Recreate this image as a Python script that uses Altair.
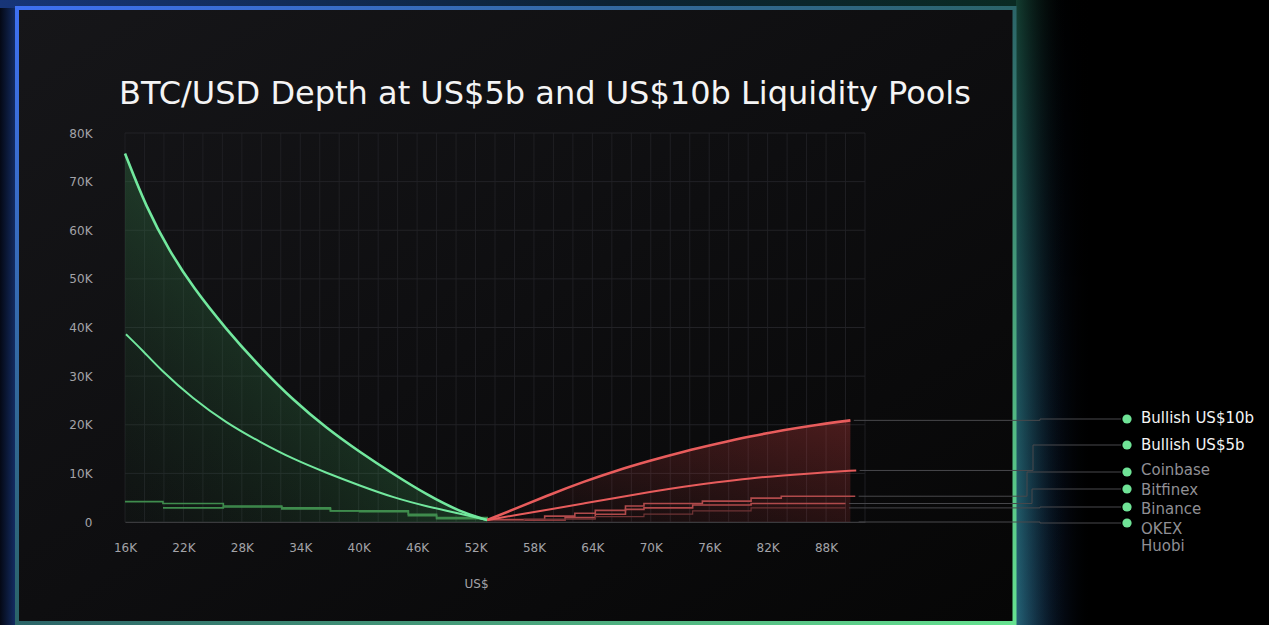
import altair as alt
import pandas as pd

# ---------------- data (prices and depth in thousands of US$) ----------------
# Bid side (below the 53K mid price), Bullish liquidity pools
BID_PRICE_10B = [16.0, 18.2, 20.6, 23.0, 26.4, 29.9, 33.3, 36.7, 40.1, 43.6, 47.0, 50.4, 53.2]
BID_DEPTH_10B = [75.8, 64.6, 55.6, 48.2, 39.6, 31.8, 25.0, 19.3, 14.4, 9.8, 5.6, 2.1, 0.4]
BID_PRICE_5B = [16.1, 17.9, 19.6, 23.0, 26.4, 29.9, 33.3, 36.7, 40.1, 43.6, 47.0, 50.4, 53.2]
BID_DEPTH_5B = [38.6, 35.1, 31.4, 25.3, 20.4, 16.4, 12.9, 10.1, 7.5, 5.0, 3.2, 1.7, 0.4]

# Ask side (above the mid price)
ASK_PRICE_10B = [53.2, 56.3, 59.7, 63.1, 66.5, 69.9, 73.4, 76.8, 80.2, 83.6, 87.0, 90.5]
ASK_DEPTH_10B = [0.4, 2.9, 5.7, 8.3, 10.6, 12.6, 14.5, 16.1, 17.6, 18.9, 20.0, 20.9]
ASK_PRICE_5B = [53.2, 56.3, 59.7, 63.1, 66.5, 69.9, 73.4, 76.8, 80.2, 83.6, 87.0, 91.1]
ASK_DEPTH_5B = [0.4, 1.5, 2.6, 3.8, 5.0, 6.2, 7.3, 8.2, 9.0, 9.6, 10.1, 10.6]

# Exchange order books (step lines)
COINBASE_BID_PRICE = [16.0, 19.9, 26.1, 32.1, 37.1, 45.1, 48.0, 53.2]
COINBASE_BID_DEPTH = [4.2, 3.8, 3.3, 2.9, 2.3, 1.6, 0.9, 0.4]
BITFINEX_BID_PRICE = [19.9, 26.1, 32.1, 37.1, 40.1, 45.1, 48.0, 53.2]
BITFINEX_BID_DEPTH = [2.9, 3.1, 2.7, 2.25, 2.1, 1.3, 0.7, 0.4]

COINBASE_ASK_PRICE = [53.2, 59.1, 62.2, 64.3, 67.4, 69.3, 75.3, 80.3, 83.4, 91.0]
COINBASE_ASK_DEPTH = [0.5, 1.2, 1.8, 2.4, 3.3, 3.8, 4.3, 4.9, 5.3, 5.3]
BITFINEX_ASK_PRICE = [53.2, 61.2, 64.3, 67.4, 69.3, 74.3, 80.3, 90.0]
BITFINEX_ASK_DEPTH = [0.4, 0.9, 1.6, 2.6, 2.9, 3.5, 3.8, 3.8]
BINANCE_ASK_PRICE = [53.2, 57.0, 64.3, 69.3, 74.3, 80.3, 90.0]
BINANCE_ASK_DEPTH = [0.3, 0.6, 1.1, 1.6, 2.3, 2.9, 2.9]
OKEX_END = (91.0, 0.0)

X_TICKS = [16, 22, 28, 34, 40, 46, 52, 58, 64, 70, 76, 82, 88]
Y_TICKS = [0, 10, 20, 30, 40, 50, 60, 70, 80]

LEGEND_NAMES = ["Bullish US$10b", "Bullish US$5b", "Coinbase", "Bitfinex", "Binance", "OKEX", "Huobi"]

TITLE = "BTC/USD Depth at US$5b and US$10b Liquidity Pools"

# ---------------- layout ----------------
W, H = 1269, 625
PLOT_LEFT, PLOT_TOP = 125, 133
PLOT_W, PLOT_H = 740, 389
X_DOM = (16, 92)
Y_DOM = (0, 80)


def x_at(px):
    """Page x pixel -> price value on the x scale."""
    return X_DOM[0] + (px - PLOT_LEFT) * (X_DOM[1] - X_DOM[0]) / PLOT_W


def y_at(py):
    """Page y pixel -> depth value on the y scale."""
    return Y_DOM[0] + (PLOT_TOP + PLOT_H - py) * (Y_DOM[1] - Y_DOM[0]) / PLOT_H


def px(v):
    return alt.value(v - PLOT_LEFT)


def py(v):
    return alt.value(v - PLOT_TOP)


DOT_X, LABEL_X, LINE_STOP_X = 1127, 1141, 1121
# name: (dot row y, label y, jog x or None, emphasised)
LEGEND_LAYOUT = {
    "Bullish US$10b": (419, 418, None, True),
    "Bullish US$5b": (445, 445, 1033, True),
    "Coinbase": (472, 470, 1027, False),
    "Bitfinex": (489, 490, 1032, False),
    "Binance": (507, 509, None, False),
    "OKEX": (523, 529, None, False),
    "Huobi": (None, 546, None, False),
}

GREEN = "#72e89e"
RED = "#e85c5c"
GREEN_STEP = "#3f8c4d"
RED_STEP = "#b04a4b"
FONT = "DejaVu Sans"
CURVE = "basis"

# ---------------- tables ----------------
def frame(xs, ys, **extra):
    d = pd.DataFrame({"price": xs, "depth": ys})
    for k, v in extra.items():
        d[k] = v
    return d


bid10 = frame(BID_PRICE_10B, BID_DEPTH_10B)
bid5 = frame(BID_PRICE_5B, BID_DEPTH_5B)
ask10 = frame(ASK_PRICE_10B, ASK_DEPTH_10B)
ask5 = frame(ASK_PRICE_5B, ASK_DEPTH_5B)

green_steps = pd.concat([
    frame(COINBASE_BID_PRICE, COINBASE_BID_DEPTH, book="Coinbase bid"),
    frame(BITFINEX_BID_PRICE, BITFINEX_BID_DEPTH, book="Bitfinex bid"),
])
red_steps = pd.concat([
    frame(COINBASE_ASK_PRICE, COINBASE_ASK_DEPTH, book="Coinbase ask"),
    frame(BITFINEX_ASK_PRICE, BITFINEX_ASK_DEPTH, book="Bitfinex ask"),
])
binance_steps = frame(BINANCE_ASK_PRICE, BINANCE_ASK_DEPTH, book="Binance ask")

line_ends = {
    "Bullish US$10b": (ASK_PRICE_10B[-1], ASK_DEPTH_10B[-1]),
    "Bullish US$5b": (ASK_PRICE_5B[-1], ASK_DEPTH_5B[-1]),
    "Coinbase": (COINBASE_ASK_PRICE[-1], COINBASE_ASK_DEPTH[-1]),
    "Bitfinex": (BITFINEX_ASK_PRICE[-1], BITFINEX_ASK_DEPTH[-1]),
    "Binance": (BINANCE_ASK_PRICE[-1], BINANCE_ASK_DEPTH[-1]),
    "OKEX": OKEX_END,
}

conn_rows = []
for name, (ex, ey) in line_ends.items():
    row_y, _, jog, _ = LEGEND_LAYOUT[name]
    ry = y_at(row_y)
    jx = x_at(jog if jog else 1040)
    pts = [(ex + 0.35, ey), (jx, ey), (jx, ry), (x_at(LINE_STOP_X), ry)]
    for i, (a, b) in enumerate(pts):
        conn_rows.append({"name": name, "seq": i, "price": a, "depth": b})
connectors = pd.DataFrame(conn_rows)

legend_rows = []
for name in LEGEND_NAMES:
    row_y, lab_y, _, strong = LEGEND_LAYOUT[name]
    legend_rows.append({
        "name": name,
        "dot_x": x_at(DOT_X),
        "dot_y": y_at(row_y) if row_y else None,
        "lab_x": x_at(LABEL_X),
        "lab_y": y_at(lab_y),
        "strong": strong,
    })
legend = pd.DataFrame(legend_rows)

grid_x = pd.DataFrame({"price": list(range(16, 93, 2))})
grid_y = pd.DataFrame({"depth": Y_TICKS})

# ---------------- scales ----------------
xs = alt.Scale(domain=list(X_DOM), nice=False, zero=False)
ys = alt.Scale(domain=list(Y_DOM), nice=False, zero=False)

X = alt.X(
    "price:Q", scale=xs,
    axis=alt.Axis(
        values=X_TICKS, grid=False, ticks=False, domain=True, domainColor="#3a3a3d",
        labelExpr="datum.value + 'K'", labelPadding=20, labelFontSize=12,
        labelColor="#a3a3a8", labelFont=FONT, labelFlush=False, zindex=1,
        title="US$", titleX=476 - PLOT_LEFT, titleY=583 - (PLOT_TOP + PLOT_H),
        titleAlign="center", titleBaseline="middle", titleFont=FONT,
        titleFontSize=12, titleFontWeight="normal", titleColor="#a3a3a8",
    ),
)
Y = alt.Y(
    "depth:Q", scale=ys,
    axis=alt.Axis(
        values=Y_TICKS, grid=False, ticks=False, domain=False,
        labelExpr="datum.value == 0 ? '0' : datum.value + 'K'", labelPadding=33,
        labelFontSize=12, labelColor="#a3a3a8", labelFont=FONT, labelFlush=False,
        zindex=1, title=None,
    ),
)

def grad(stops, x1=0, y1=0, x2=1, y2=0):
    return alt.Gradient(
        gradient="linear",
        stops=[alt.GradientStop(color=c, offset=o) for o, c in stops],
        x1=x1, y1=y1, x2=x2, y2=y2,
    )

one = pd.DataFrame({"k": [0]})

# ---------------- background: glow + panel ----------------
glow_left = alt.Chart(one).mark_rect(
    fill=grad([(0, "#040814"), (1, "#15306c")])
).encode(x=px(0), x2=px(17), y=py(0), y2=py(H))
glow_top = alt.Chart(one).mark_rect(
    fill=grad([(0, "#173578"), (0.6, "#0c2233"), (1, "#0a2a22")])
).encode(x=px(0), x2=px(1017), y=py(0), y2=py(8))
glow_right = alt.Chart(one).mark_rect(
    fill=grad([(0, "rgba(40,90,165,0.85)"), (0.45, "rgba(20,50,100,0.4)"), (1, "rgba(0,0,0,0)")])
).encode(x=px(1016), x2=px(1092), y=py(0), y2=py(H))
glow_right_shade = alt.Chart(one).mark_rect(
    fill=grad([(0, "rgba(0,0,0,0.92)"), (0.6, "rgba(0,0,0,0.35)"), (1, "rgba(0,0,0,0)")], 0, 0, 0, 1)
).encode(x=px(1016), x2=px(1092), y=py(0), y2=py(H))
glow_right_teal = alt.Chart(one).mark_rect(
    fill=grad([(0, "rgba(40,130,95,0.45)"), (1, "rgba(0,0,0,0)")])
).encode(x=px(1016), x2=px(1068), y=py(0), y2=py(H))

panel = alt.Chart(one).mark_rect(
    fill=grad([(0, "#161619"), (0.5, "#0e0e10"), (1, "#060606")], 0, 0, 1, 1),
    stroke=grad([(0, "#3e70f2"), (0.5, "#2b6468"), (1, "#66e290")], 0, 0, 1, 1),
    strokeWidth=4,
).encode(x=px(17), x2=px(1014.5), y=py(8), y2=py(623))

# ---------------- grid ----------------
vgrid = alt.Chart(grid_x).mark_rule(color="#1f1f23", strokeWidth=1).encode(
    x=alt.X("price:Q", scale=xs), y=alt.value(0), y2=alt.value(PLOT_H)
)
hgrid = alt.Chart(grid_y).mark_rule(color="#222226", strokeWidth=1).encode(
    y=alt.Y("depth:Q", scale=ys), x=alt.value(0), x2=alt.value(PLOT_W)
)

# ---------------- fills ----------------
green_fill = alt.Chart(bid10).mark_area(
    color=grad([(0, "rgba(40,110,60,0.04)"), (1, "rgba(70,180,100,0.24)")], 0, 1, 0.5, 0.5),
    interpolate=CURVE,
).encode(x=X, y=Y)
red_fill = alt.Chart(ask10).mark_area(
    color=grad([(0, "rgba(200,60,60,0.0)"), (1, "rgba(210,65,65,0.32)")], 0, 1, 1, 0),
    interpolate=CURVE,
).encode(x=X, y=Y)

# ---------------- step lines ----------------
gsteps = alt.Chart(green_steps).mark_line(
    color=GREEN_STEP, strokeWidth=1.6, interpolate="step-after"
).encode(x=X, y=Y, detail="book:N")
rsteps = alt.Chart(red_steps).mark_line(
    color=RED_STEP, strokeWidth=1.6, interpolate="step-after"
).encode(x=X, y=Y, detail="book:N")
bsteps = alt.Chart(binance_steps).mark_line(
    color="#6e3334", strokeWidth=1.2, interpolate="step-after"
).encode(x=X, y=Y)

# ---------------- pool curves ----------------
g10 = alt.Chart(bid10).mark_line(color=GREEN, strokeWidth=2.6, interpolate=CURVE).encode(x=X, y=Y)
g5 = alt.Chart(bid5).mark_line(color=GREEN, strokeWidth=2.0, interpolate=CURVE).encode(x=X, y=Y)
r10 = alt.Chart(ask10).mark_line(color=RED, strokeWidth=2.6, interpolate=CURVE).encode(x=X, y=Y)
r5 = alt.Chart(ask5).mark_line(color=RED, strokeWidth=2.0, interpolate=CURVE).encode(x=X, y=Y)

# ---------------- legend ----------------
conn = alt.Chart(connectors).mark_line(color="#48484c", strokeWidth=1).encode(
    x=X, y=Y, order="seq:Q", detail="name:N"
)
dots = alt.Chart(legend).transform_filter("datum.dot_y != null").mark_circle(
    size=85, color="#6fe396", opacity=1
).encode(x=alt.X("dot_x:Q", scale=xs), y=alt.Y("dot_y:Q", scale=ys))
labels_strong = alt.Chart(legend).transform_filter("datum.strong").mark_text(
    align="left", baseline="middle", font=FONT, fontSize=15, color="#f4f4f4"
).encode(x=alt.X("lab_x:Q", scale=xs), y=alt.Y("lab_y:Q", scale=ys), text="name:N")
labels_soft = alt.Chart(legend).transform_filter("!datum.strong").mark_text(
    align="left", baseline="middle", font=FONT, fontSize=15, color="#8f8f94"
).encode(x=alt.X("lab_x:Q", scale=xs), y=alt.Y("lab_y:Q", scale=ys), text="name:N")

title = alt.Chart(one).mark_text(
    text=TITLE, font=FONT, fontSize=32, color="#f4f4f4", align="center", baseline="middle"
).encode(x=px(545), y=py(94))

chart = alt.layer(
    glow_left, glow_top, glow_right, glow_right_shade, glow_right_teal, panel,
    vgrid, hgrid, green_fill, red_fill, gsteps, rsteps, bsteps,
    g5, g10, r5, r10, conn, dots, labels_strong, labels_soft, title,
).properties(
    width=PLOT_W, height=PLOT_H,
    autosize=alt.AutoSizeParams(type="none"),
    padding={"left": PLOT_LEFT, "top": PLOT_TOP,
             "right": W - PLOT_LEFT - PLOT_W, "bottom": H - PLOT_TOP - PLOT_H},
    background="#000000",
).configure_view(stroke=None, fill=None)

chart.save("out.html", embed_options={"renderer": "svg", "actions": False})
